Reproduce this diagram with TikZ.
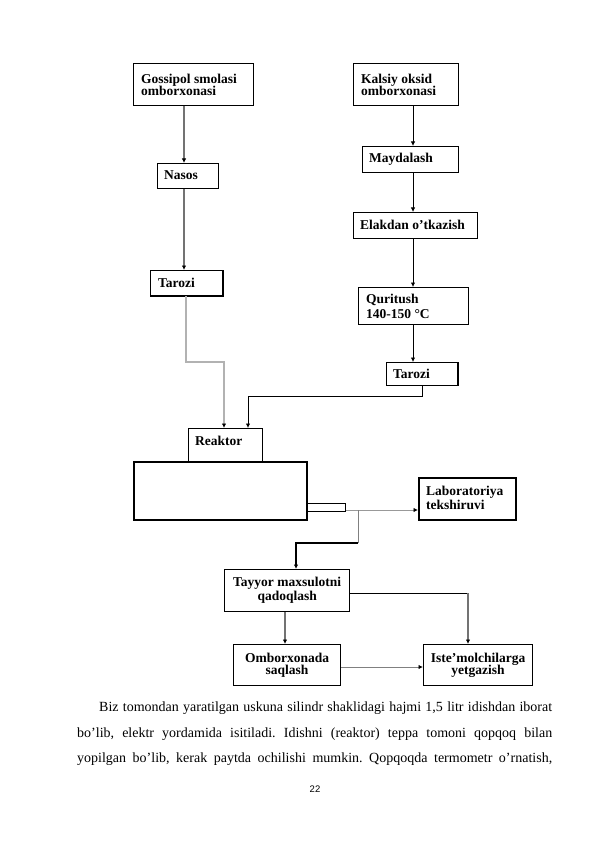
\documentclass[tikz,border=0pt]{standalone}
\usepackage{fontspec}
\setmainfont{Liberation Serif}
\newfontfamily\pagenumfont{Liberation Sans}
\usetikzlibrary{arrows.meta}
\frenchspacing
\begin{document}
\begin{tikzpicture}[x=1pt,y=-1pt,
  box/.style={draw, line width=0.9pt, rectangle, inner sep=0pt, anchor=north west},
  thickbox/.style={box, line width=1.5pt},
  lbl/.style={anchor=west, align=left, inner sep=0pt, font=\fontsize{13.5}{12.5}\selectfont\bfseries},
  clbl/.style={align=center, font=\fontsize{13.5}{12.5}\selectfont\bfseries},
  tip/.style={-{Latex[length=4.5pt,width=4.5pt,color=black]}},
  grayconn/.style={draw=black!55, line width=1.5pt},
  lightconn/.style={draw=black!30, line width=1.6pt},
  blackconn/.style={draw=black, line width=0.8pt},
  para/.style={anchor=base west, inner sep=0pt, font=\fontsize{14}{16}\selectfont}]
\useasboundingbox[fill=white] (0,0) rectangle (595,842);

% ---- left column
\node[box, minimum width=120pt, minimum height=42pt] (goss) at (133,63) {};
\node[lbl] (gosst) at (141,85) {Gossipol smolasi\\omborxonasi};
\node[box, minimum width=61pt, minimum height=25pt] (nasos) at (157,163) {};
\node[lbl] (nasost) at (164,175.5) {Nasos};
\node[box, minimum width=72pt, minimum height=25pt] (tar1) at (150,270) {};
\draw[line width=1.6pt] (tar1.north east) -- (tar1.south east) -- (tar1.south west);
\node[lbl] (tar1t) at (158,283) {Tarozi};

% ---- right column
\node[box, minimum width=105pt, minimum height=42pt] (kals) at (353,63) {};
\node[lbl] (kalst) at (361,85) {Kalsiy oksid\\omborxonasi};
\node[box, minimum width=96pt, minimum height=26pt] (mayd) at (362,146) {};
\node[lbl] (maydt) at (369,159) {Maydalash};
\node[box, minimum width=124pt, minimum height=26pt] (elak) at (353,212) {};
\node[lbl] (elakt) at (360,225) {Elakdan o’tkazish};
\node[thickbox, line width=1.2pt, minimum width=110pt, minimum height=37pt] (qur) at (358,287) {};
\node[lbl, font=\fontsize{13.5}{15}\selectfont\bfseries] (qurt) at (366,306) {Quritush\\140-150 °C};
\node[box, minimum width=71pt, minimum height=23pt] (tar2) at (386,362) {};
\draw[line width=1.4pt] (tar2.north east) -- (tar2.south east);
\node[lbl] (tar2t) at (393,373.5) {Tarozi};

% ---- reactor
\node[thickbox, line width=1.2pt, minimum width=74pt, minimum height=33pt] (reak) at (188,428) {};
\node[lbl] (reakt) at (195,441) {Reaktor};
\node[thickbox, line width=1.6pt, minimum width=173pt, minimum height=58pt] (body) at (133,461) {};
\node[box, line width=0.8pt, minimum width=38pt, minimum height=8pt] (spout) at (307,503) {};
\draw[line width=2pt] (spout.north west) -- (spout.south west);

% ---- lab, packaging, storage, delivery
\node[thickbox, minimum width=97pt, minimum height=42pt] (lab) at (418,477) {};
\node[lbl, font=\fontsize{13.5}{14}\selectfont\bfseries] (labt) at (426,497.5) {Laboratoriya\\tekshiruvi};
\node[thickbox, line width=1.3pt, minimum width=125pt, minimum height=42pt, clbl, font=\fontsize{13.5}{14}\selectfont\bfseries] (tay) at (224,569) {Tayyor maxsulotni\\qadoqlash};
\node[thickbox, line width=1.2pt, minimum width=107pt, minimum height=41pt, clbl] (omb) at (233,644) {Omborxonada\\saqlash};
\node[thickbox, line width=1.2pt, minimum width=109pt, minimum height=41pt, clbl] (ist) at (423,644) {Iste’molchilarga\\yetgazish};

% ---- bend coordinates
\coordinate (xl) at (184,0);
\coordinate (xr) at (413,0);
\coordinate (b1) at (186,362);
\coordinate (b2) at (224,362);
\coordinate (b3) at (422,396);
\coordinate (b4) at (248,396);
\coordinate (b5) at (358,510);
\coordinate (b6) at (358,543);
\coordinate (b7) at (296,543);
\coordinate (b8) at (468,593);
\coordinate (b9) at (285,0);
\coordinate (b10) at (0,667);

% ---- connectors
\draw[grayconn, tip] (goss.south -| xl) -- (nasos.north -| xl);
\draw[grayconn, tip] (nasos.south -| xl) -- (tar1.north -| xl);
\draw[lightconn, tip] (tar1.south -| b1) -- (b1) -- (b2) -- (reak.north -| b2);
\draw[blackconn, tip] (kals.south -| xr) -- (mayd.north -| xr);
\draw[blackconn, tip] (mayd.south -| xr) -- (elak.north -| xr);
\draw[blackconn, tip] (elak.south -| xr) -- (qur.north -| xr);
\draw[blackconn, tip] (qur.south -| xr) -- (tar2.north -| xr);
\draw[blackconn, tip] (tar2.south -| b3) -- (b3) -- (b4) -- (reak.north -| b4);
\draw[draw=black!40, line width=1pt, tip] (spout.east |- b5) -- (lab.west |- b5);
\draw[draw=black!50, line width=1pt] (b5) -- (b6);
\draw[line width=1.6pt, tip] (b6) -- (b7) -- (tay.north -| b7);
\draw[blackconn] (tay.east |- b8) -- (b8);
\draw[grayconn, tip] (b8) -- (ist.north -| b8);
\draw[grayconn, tip] (tay.south -| b9) -- (omb.north -| b9);
\draw[draw=black!50, line width=1pt, tip] (omb.east |- b10) -- (ist.west |- b10);

% ---- text below
\node[para] (p1) at (99,711) {\makebox[453pt][s]{Biz tomondan yaratilgan uskuna silindr shaklidagi hajmi 1,5 litr idishdan iborat}};
\node[para] (p2) at (77,737) {\makebox[475pt][s]{bo’lib, elektr yordamida isitiladi. Idishni (reaktor) teppa tomoni qopqoq bilan}};
\node[para] (p3) at (77,762) {\makebox[475pt][s]{yopilgan bo’lib, kerak paytda ochilishi mumkin. Qopqoqda termometr o’rnatish,}};
\node[anchor=base, inner sep=0pt, font=\pagenumfont\fontsize{9.5}{11}\selectfont] (pn) at (315,792) {22};
\end{tikzpicture}
\end{document}
